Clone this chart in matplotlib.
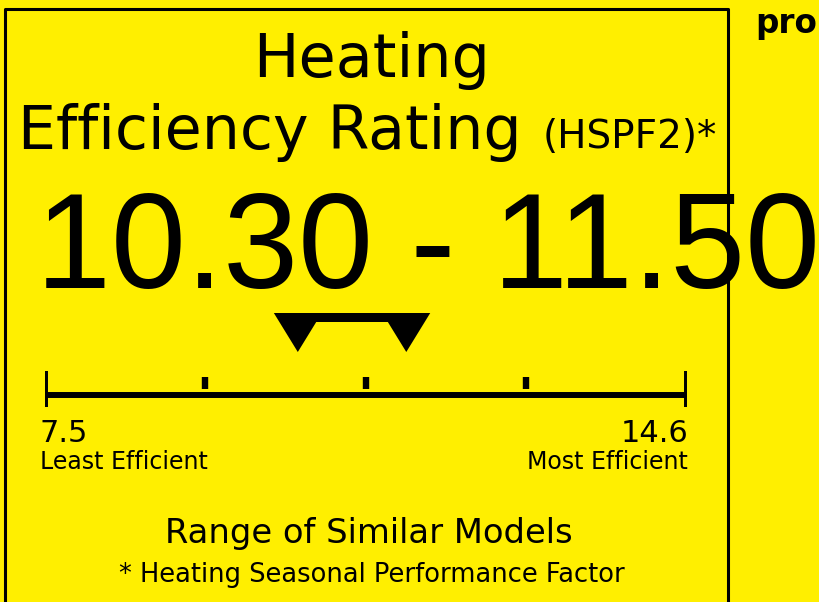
import matplotlib
matplotlib.use("Agg")
import matplotlib.pyplot as plt
from matplotlib import font_manager as fm
from matplotlib.patches import Polygon, Rectangle

# label values
range_low = 10.30
range_high = 11.50
scale_min = 7.5
scale_max = 14.6
minor_ticks = [9.275, 11.05, 12.825]

title1 = "Heating"
title2 = "Efficiency Rating"
title_unit = "(HSPF2)*"
range_text = "10.30 - 11.50"
left_value = "7.5"
right_value = "14.6"
left_label = "Least Efficient"
right_label = "Most Efficient"
caption = "Range of Similar Models"
footnote = "* Heating Seasonal Performance Factor"
side_text = "pro"

yellow = "#FFEF00"
font = "DejaVu Sans"


def regular_file(name):
    # pick the plain (not narrow, not bold/italic) file of a family
    hits = [f for f in fm.fontManager.ttflist if f.name == name]
    for f in hits:
        if f.stretch == "normal" and f.style == "normal" and f.weight in (400, "normal", "regular"):
            return f.fname
    good = [f.fname for f in hits if "Narrow" not in f.fname and "Bold" not in f.fname
            and "Italic" not in f.fname]
    return good[0] if good else None


big_file = regular_file("Liberation Sans")
if big_file:
    big_prop = fm.FontProperties(fname=big_file, size=97)
else:
    big_prop = fm.FontProperties(family="DejaVu Sans", size=90)

fig = plt.figure(figsize=(8.19, 6.02), dpi=100)
fig.patch.set_facecolor(yellow)

# whole-figure axes in pixel units
ax = fig.add_axes([0, 0, 1, 1])
ax.set_xlim(0, 819)
ax.set_ylim(602, 0)
ax.axis("off")

# label frame
ax.plot([4.7, 4.7, 727.8, 727.8], [700, 8.7, 8.7, 700], color="black", lw=2.2)

ax.text(372, 76.7, title1, family=font, fontsize=43.6, ha="center", va="baseline")
ax.text(17.5, 149, title2, family=font, fontsize=43.3, ha="left", va="baseline")
ax.text(543, 148.3, title_unit, family=font, fontsize=28, ha="left", va="baseline")
ax.text(36, 287.7, range_text, fontproperties=big_prop, ha="left", va="baseline")

ax.text(40, 442, left_value, family=font, fontsize=22, ha="left", va="baseline")
ax.text(40.5, 469, left_label, family=font, fontsize=17, ha="left", va="baseline")
ax.text(688, 442, right_value, family=font, fontsize=22, ha="right", va="baseline")
ax.text(688, 469, right_label, family=font, fontsize=17, ha="right", va="baseline")

ax.text(369, 543, caption, family=font, fontsize=24.3, ha="center", va="baseline")
ax.text(372, 582, footnote, family=font, fontsize=18.5, ha="center", va="baseline")

ax.text(755, 33.3, side_text, family=font, fontsize=23.5, fontweight="bold",
        ha="left", va="baseline")

# scale axes: x in rating units, y in pixels
sx = fig.add_axes([44.7 / 819, 0, 641.8 / 819, 1])
sx.set_xlim(scale_min, scale_max)
sx.set_ylim(602, 0)
sx.axis("off")
sx.patch.set_alpha(0)

sx.plot([scale_min, scale_max], [395, 395], color="black", lw=4.3,
        solid_capstyle="butt")
sx.vlines([scale_min, scale_max], 371, 407, color="black", lw=4.3)
sx.vlines(minor_ticks, 377, 389, color="black", lw=4.6)

# range markers
hw = 0.265
for v in (range_low, range_high):
    sx.add_patch(Polygon([(v - hw, 313), (v + hw, 313), (v, 352)],
                         closed=True, color="black", lw=0))
sx.add_patch(Rectangle((range_low, 313), range_high - range_low, 9,
                       color="black", lw=0))

fig.savefig("out.png", dpi=100, facecolor=yellow)
